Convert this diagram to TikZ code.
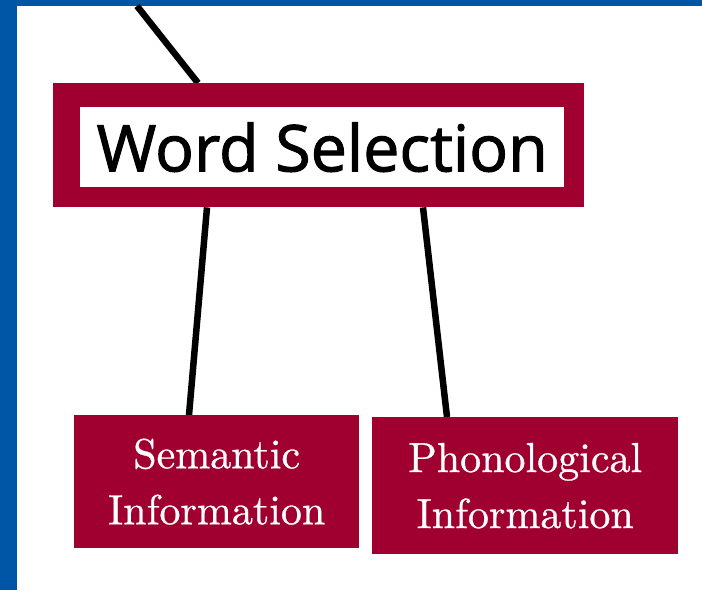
\documentclass[tikz,border=0pt]{standalone}
\usepackage{fontspec}
\newfontfamily\headfont{Open Sans}[FakeBold=1.6]
\newfontfamily\infofont{lmroman10-regular.otf}[FakeBold=0.7]
\usetikzlibrary{calc,backgrounds}
\definecolor{crim}{HTML}{A0002F}
\definecolor{slideblue}{HTML}{0056A6}
\tikzset{
  outerbox/.style={rectangle, fill=crim, inner sep=0pt, anchor=north west},
  innerbox/.style={rectangle, fill=white, inner sep=0pt, anchor=north west,
    font=\headfont\fontsize{64.5}{70}\selectfont, text=black},
  infobox/.style={rectangle, fill=crim, inner sep=0pt, anchor=north west,
    align=center, text=white, font=\infofont\fontsize{42}{56}\selectfont},
  link/.style={line width=6.5pt, black}
}
\begin{document}
\begin{tikzpicture}[x=1pt, y=-1pt]
  \useasboundingbox (0,0) rectangle (702,590);

  % Word Selection box: crimson frame around a white panel
  \node[outerbox, minimum width=531pt, minimum height=124pt] (ws) at (53,83) {};
  \node[innerbox, minimum width=484pt, minimum height=80pt] (wsin) at (80,107) {Word Selection};

  % lower boxes
  \node[infobox, minimum width=285pt, minimum height=133pt] (sem) at (74,415)
    {Semantic\\Information};
  \node[infobox, minimum width=306pt, minimum height=137pt] (pho) at (372,417)
    {Phonological\\Information};

  \coordinate (up) at (137,6);
  \begin{pgfonlayer}{background}
    % slide frame
    \fill[white] (0,0) rectangle (702,590);
    \fill[slideblue] (0,0) rectangle (702,6);
    \fill[slideblue] (0,0) rectangle (17,590);
    % connectors
    \draw[link] (up) -- ($(ws.north west)+(145,0)$);
    \draw[link] ($(ws.south west)+(154,0)$) -- ($(sem.north west)+(115,0)$);
    \draw[link] ($(ws.south west)+(370,0)$) -- ($(pho.north west)+(75,0)$);
  \end{pgfonlayer}
\end{tikzpicture}
\end{document}
